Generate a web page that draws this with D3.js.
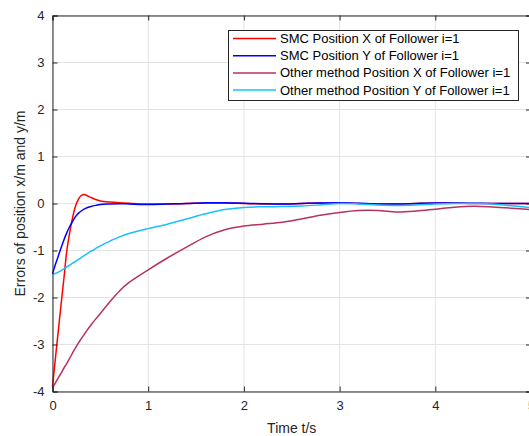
<!DOCTYPE html>
<html>
<head>
<meta charset="utf-8">
<script src="https://cdn.jsdelivr.net/npm/d3@7"></script>
<style>
  html, body { margin: 0; padding: 0; background: #fff; }
  svg { display: block; font-family: "Liberation Sans", Arial, Helvetica, sans-serif; }
</style>
</head>
<body>
<svg id="chart" width="529" height="436"></svg>
<script>
// ---- data ----
const time = [0,0.03,0.06,0.09,0.12,0.15,0.18,0.21,0.24,0.27,0.3,0.33,0.36,0.4,0.45,0.5,0.6,0.7,0.8,1.0,1.2,1.4,1.6,1.8,2.0,2.2,2.4,2.6,2.8,3.0,3.2,3.4,3.6,3.8,4.0,4.2,4.4,4.6,4.8,5.0];
const smcX = [-3.9,-3.3,-2.72,-2.14,-1.58,-1.0,-0.62,-0.3,-0.06,0.09,0.17,0.19,0.17,0.13,0.085,0.055,0.03,0.015,0.005,-0.01,-0.01,0.0,0.01,0.01,0.0,-0.01,-0.01,0.0,0.01,0.01,0.0,-0.01,-0.01,0.0,0.01,0.01,0.0,0.0,0.0,0.0];
const smcY = [-1.5,-1.3,-1.12,-0.94,-0.77,-0.62,-0.49,-0.38,-0.28,-0.21,-0.16,-0.12,-0.09,-0.065,-0.04,-0.02,-0.01,-0.005,-0.01,-0.02,-0.01,0.0,0.015,0.015,0.005,-0.005,-0.01,0.0,0.01,0.015,0.005,-0.01,-0.01,0.0,0.01,0.01,0.005,0.0,0.0,0.0];
const otherX = [-3.92,-3.82,-3.71,-3.61,-3.5,-3.4,-3.29,-3.18,-3.07,-2.97,-2.88,-2.79,-2.7,-2.59,-2.46,-2.34,-2.09,-1.86,-1.68,-1.41,-1.16,-0.93,-0.71,-0.56,-0.48,-0.44,-0.4,-0.33,-0.25,-0.19,-0.15,-0.15,-0.18,-0.16,-0.12,-0.08,-0.06,-0.075,-0.1,-0.13];
const otherY = [-1.5,-1.49,-1.46,-1.43,-1.39,-1.35,-1.31,-1.27,-1.23,-1.19,-1.15,-1.11,-1.07,-1.02,-0.96,-0.9,-0.8,-0.71,-0.64,-0.535,-0.44,-0.33,-0.22,-0.13,-0.085,-0.07,-0.065,-0.055,-0.03,0.0,-0.01,-0.03,-0.04,-0.03,-0.01,0.0,0.0,-0.01,-0.05,-0.09];
const seriesNames = ["SMC Position X of Follower i=1","SMC Position Y of Follower i=1","Other method Position X of Follower i=1","Other method Position Y of Follower i=1"];
const seriesColors = ["#ff0000","#0000ff","#b8325e","#18c0ff"];
const xTicks = [0,1,2,3,4,5];
const yTicks = [-4,-3,-2,-1,0,1,2,3,4];
const xLabel = "Time t/s";
const yLabel = "Errors of position x/m and y/m";

const seriesValues = [smcX, smcY, otherX, otherY];

// ---- layout ----
const svg = d3.select("#chart");
const L = 52.5, R = 531, T = 15.5, B = 391.5;
const x = d3.scaleLinear().domain([0,5]).range([L,R]);
const y = d3.scaleLinear().domain([-4,4]).range([B,T]);
const axisColor = "#262626";
const fmt = d => String(d);

// grid
const grid = svg.append("g");
grid.selectAll("line.gx").data(xTicks).join("line")
  .attr("x1", d => x(d)).attr("x2", d => x(d)).attr("y1", T).attr("y2", B)
  .attr("stroke", "#e3e3e3").attr("stroke-width", 1);
grid.selectAll("line.gy").data(yTicks).join("line")
  .attr("x1", L).attr("x2", R).attr("y1", d => y(d)).attr("y2", d => y(d))
  .attr("stroke", "#e3e3e3").attr("stroke-width", 1);

// lines
const line = d3.line().curve(d3.curveCatmullRom.alpha(0.5));
const plot = svg.append("g");
seriesValues.forEach((vals, i) => {
  plot.append("path")
    .attr("d", line(time.map((t, k) => [x(t), y(vals[k])])))
    .attr("fill", "none")
    .attr("stroke", seriesColors[i])
    .attr("stroke-width", 1.5);
});

// axes
const axB = d3.axisBottom(x).tickValues(xTicks).tickSize(-5).tickPadding(9).tickFormat(fmt);
const axL = d3.axisLeft(y).tickValues(yTicks).tickSize(-5).tickPadding(8).tickFormat(fmt);
const axT = d3.axisTop(x).tickValues(xTicks).tickSize(-5).tickFormat("");
const axR = d3.axisRight(y).tickValues(yTicks).tickSize(-5).tickFormat("");

function style(g) {
  g.select(".domain").attr("stroke", axisColor).attr("stroke-width", 1);
  g.selectAll(".tick line").attr("stroke", axisColor);
  g.selectAll(".tick text").attr("fill", axisColor).attr("font-size", 13)
    .attr("font-family", '"Liberation Sans", Arial, sans-serif');
}
svg.append("g").attr("transform", `translate(0,${B})`).call(axB).call(style);
svg.append("g").attr("transform", `translate(${L},0)`).call(axL).call(style);
svg.append("g").attr("transform", `translate(0,${T})`).call(axT).call(style);
svg.append("g").attr("transform", `translate(${R},0)`).call(axR).call(style);

// axis labels
svg.append("text").attr("x", (L + R) / 2).attr("y", 433)
  .attr("text-anchor", "middle").attr("font-size", 14).attr("fill", axisColor).text(xLabel);
svg.append("text").attr("transform", `translate(25,${(T + B) / 2}) rotate(-90)`)
  .attr("text-anchor", "middle").attr("font-size", 14).attr("fill", axisColor).text(yLabel);

// legend
const lg = svg.append("g");
lg.append("rect").attr("x", 228.5).attr("y", 30.5).attr("width", 290).attr("height", 70)
  .attr("fill", "#fff").attr("stroke", axisColor).attr("stroke-width", 1);
seriesNames.forEach((name, i) => {
  const yy = 38.5 + i * 17.2;
  lg.append("line").attr("x1", 233).attr("x2", 276).attr("y1", yy).attr("y2", yy)
    .attr("stroke", seriesColors[i]).attr("stroke-width", 1.5);
  lg.append("text").attr("x", 280).attr("y", yy + 4.5).attr("font-size", 13)
    .attr("fill", "#000").text(name);
});
</script>
</body>
</html>
